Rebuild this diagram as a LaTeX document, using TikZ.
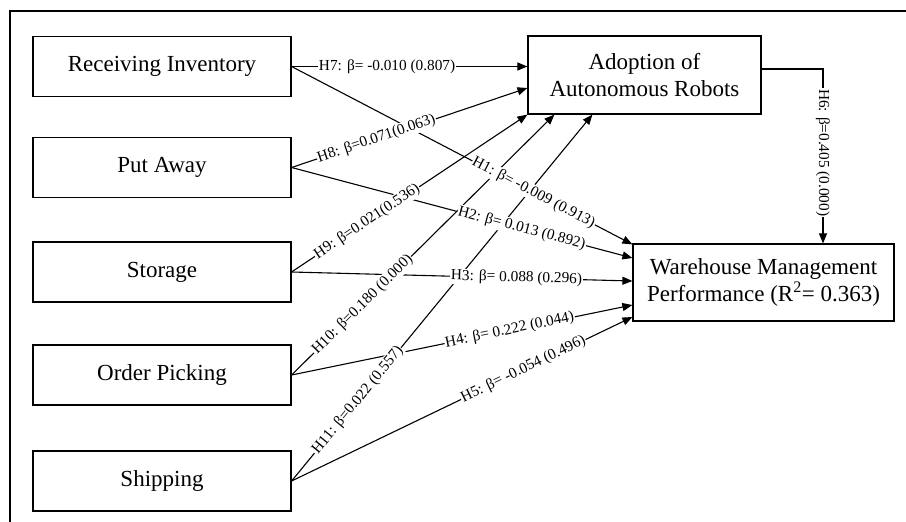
\documentclass[tikz,border=0pt]{standalone}
\usepackage{fontspec}
\setmainfont{Liberation Serif}
\usetikzlibrary{arrows.meta,calc}
\begin{document}
\begin{tikzpicture}[x=1pt,y=-1pt,
 box/.style={draw, line width=1.2pt, align=center, inner sep=0pt, font=\fontsize{23}{27}\selectfont},
 lbox/.style={box, minimum width=258pt, minimum height=60pt},
 arr/.style={line width=1.1pt, -{Triangle[length=10pt,width=8pt]}},
 lab/.style={fill=white, inner sep=0.8pt, font=\fontsize{15.3}{17}\selectfont},
]
\useasboundingbox (0,0) rectangle (906,522);
\draw[line width=1.6pt] (10,522) -- (10,11) -- (906,11);
% nodes
\node[lbox] (ri) at (162,66.5) {Receiving Inventory};
\node[lbox] (pa) at (162,167.5) {Put Away};
\node[lbox] (st) at (162,272) {Storage};
\node[lbox] (op) at (162,375) {Order Picking};
\node[lbox] (sh) at (162,481) {Shipping};
\node[box, minimum width=233pt, minimum height=78pt] (ar) at (644.5,75) {Adoption of\\Autonomous Robots};
\node[box, minimum width=261pt, minimum height=77pt] (wm) at (763.5,282.5) {Warehouse Management\\Performance (R\textsuperscript{2}= 0.363)};
% targets
\coordinate (t7) at (ar.west |- ri.east);
\coordinate (t8) at ([yshift=-13pt]ar.west);
\coordinate (t9) at (ar.south west);
\coordinate (t10) at ([xshift=27pt]ar.south west);
\coordinate (t11) at ([xshift=65pt]ar.south west);
\coordinate (t1) at ([yshift=-1pt]wm.north west);
\coordinate (t2) at ([yshift=24.5pt]wm.west);
\coordinate (t3) at ([yshift=1.5pt]wm.west);
\coordinate (t4) at ([yshift=-22.5pt]wm.west);
\coordinate (t5) at ([yshift=-34.5pt]wm.west);
\coordinate (h6a) at ([yshift=6pt]ar.east);
\coordinate (h6b) at ([xshift=59.5pt]wm.north);
% connectors
\foreach \s/\t in {ri/t7, pa/t8, st/t9, op/t10, sh/t11, ri/t1, pa/t2, st/t3, op/t4, sh/t5}
  \draw[arr] (\s.east) -- (\t);
\draw[arr] (h6a) -| (h6b);
% labels
\foreach \s/\t/\p/\txt in {
  ri/t7/0.405/{H7: β= -0.010 (0.807)},
  pa/t8/0.36/{H8: β=0.071(0.063)},
  st/t9/0.32/{H9: β=0.021(0.536)},
  op/t10/0.27/{H10: β=0.180 (0.000)},
  sh/t11/0.22/{H11: β=0.022 (0.557)},
  ri/t1/0.71/{H1: β= -0.009 (0.913)},
  pa/t2/0.675/{H2: β= 0.013 (0.892)},
  st/t3/0.66/{H3: β= 0.088 (0.296)},
  op/t4/0.64/{H4: β= 0.222 (0.044)},
  sh/t5/0.68/{H5: β= -0.054 (0.496)}}
  \path (\s.east) -- (\t) node[lab, sloped, pos=\p] {\txt};
\path (h6a) -| (h6b) node[lab, rotate=-90, pos=0.74] {H6: β=0.405 (0.000)};
\end{tikzpicture}
\end{document}
